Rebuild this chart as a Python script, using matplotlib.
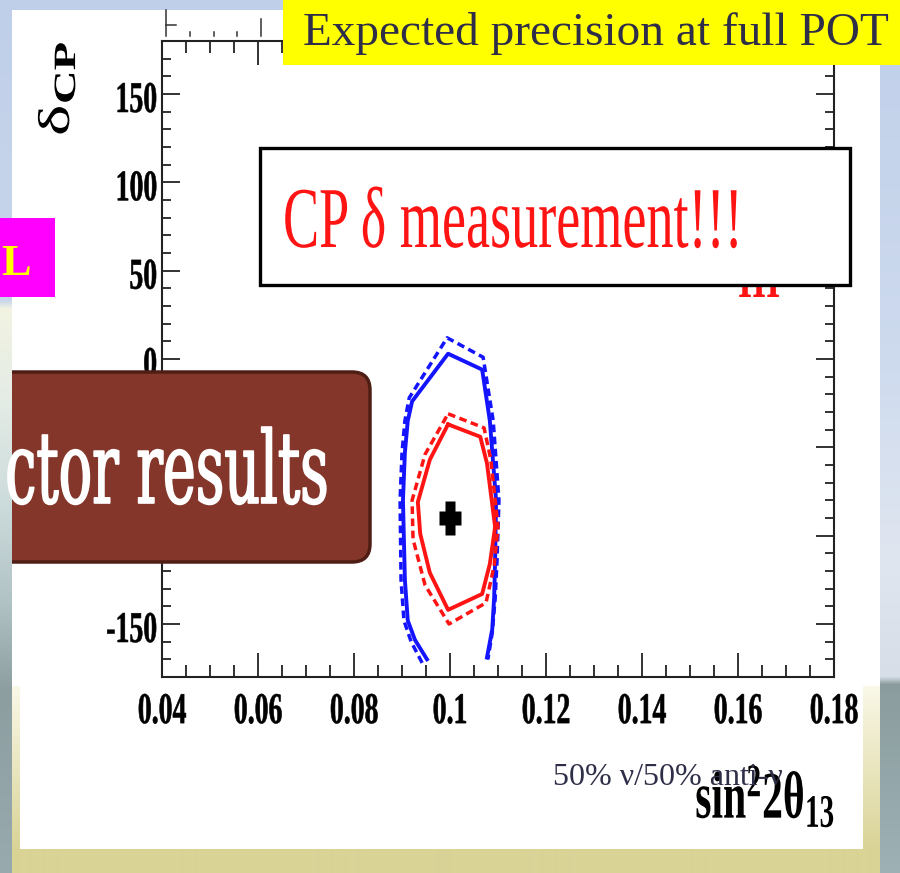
import numpy as np
import matplotlib.pyplot as plt
import matplotlib.patheffects as pe
from matplotlib.patches import Rectangle, FancyBboxPatch
from matplotlib.transforms import Affine2D
from matplotlib.path import Path
from matplotlib.ticker import MultipleLocator

plt.rcParams['mathtext.fontset'] = 'custom'
plt.rcParams['mathtext.rm'] = 'Liberation Serif'
plt.rcParams['mathtext.bf'] = 'Liberation Serif:bold'
plt.rcParams['mathtext.it'] = 'Liberation Serif:italic'

# axis ticks
x_ticks = [0.04, 0.06, 0.08, 0.10, 0.12, 0.14, 0.16, 0.18]
x_tick_labels = ['0.04', '0.06', '0.08', '0.1', '0.12', '0.14', '0.16', '0.18']
y_ticks = [-150, -100, -50, 0, 50, 100, 150]

# outer (blue) contours, open at the bottom where delta wraps round
blue_solid_x = [0.0952, 0.0927, 0.0912, 0.0906, 0.0902, 0.0906, 0.0912, 0.0921,
                0.0996, 0.1067, 0.1083, 0.1096, 0.1094, 0.1092, 0.1088, 0.1077]
blue_solid_y = [-170, -159, -148, -125, -80, -53, -35, -24,
                3, -6, -35, -80, -114, -135, -153, -169]
blue_dash_x = [0.0942, 0.0919, 0.0904, 0.0898, 0.0896, 0.0900, 0.0906, 0.0915,
               0.0994, 0.1069, 0.1090, 0.1102, 0.1098, 0.1094, 0.1088, 0.1079]
blue_dash_y = [-172, -160, -148, -125, -80, -53, -35, -22,
               12, 1, -35, -80, -114, -136, -155, -170]

# inner (red) contours, closed
red_solid_x = [0.0996, 0.1063, 0.1077, 0.1094, 0.1083, 0.1067, 0.0996,
               0.0958, 0.0938, 0.0933, 0.0958, 0.0996]
red_solid_y = [-37, -44, -59, -95, -116, -133, -142, -121, -99, -81, -57, -37]
red_dash_x = [0.0996, 0.1071, 0.1085, 0.1100, 0.1092, 0.1075, 0.0998,
              0.0948, 0.0923, 0.0921, 0.0948, 0.0996]
red_dash_y = [-31, -39, -57, -95, -117, -138, -150, -128, -102, -80, -54, -31]

# true point
true_x = [0.1]
true_y = [-90]

W, H = 900, 873


class Stretch(pe.AbstractPathEffect):
    # the slide picture is squashed sideways, glyphs come out taller than normal
    def __init__(self, sy=1.6, dy=0.0, lw=0.0):
        super().__init__()
        self.sy = sy
        self.dy = dy
        self.lw = lw

    def draw_path(self, renderer, gc, tpath, affine, rgbFace=None):
        x0, y0 = affine.transform((0, 0))
        tr = affine + Affine2D().translate(-x0, -y0).scale(1, self.sy).translate(x0, y0 + self.dy)
        if self.lw and rgbFace is not None:
            gc0 = renderer.new_gc()
            gc0.copy_properties(gc)
            gc0.set_linewidth(self.lw)
            gc0.set_foreground(rgbFace)
            renderer.draw_path(gc0, tpath, tr, rgbFace)
            gc0.restore()
        else:
            renderer.draw_path(gc, tpath, tr, rgbFace)


def gradient(stops, n):
    pos = [s[0] for s in stops]
    cols = [np.interp(np.arange(n), pos, [s[1][i] for s in stops]) for i in range(3)]
    return np.stack(cols, axis=-1) / 255.0


fig = plt.figure(figsize=(W / 100, H / 100), dpi=100)

# slide background
bg = fig.add_axes([0, 0, 1, 1], zorder=0)
img = np.repeat(gradient([(0, (192, 207, 233)), (350, (205, 218, 238)), (560, (224, 230, 240)),
                          (676, (215, 222, 232)), (684, (138, 156, 158)), (873, (158, 177, 180))], H)[:, None, :],
                W, axis=1)
img[:, :12] = gradient([(0, (192, 207, 233)), (300, (200, 214, 235)), (308, (242, 243, 226)),
                        (400, (228, 236, 230)), (520, (200, 216, 217)), (600, (178, 195, 197)),
                        (690, (140, 158, 160)), (873, (152, 170, 174))], H)[:, None, :]
bg.imshow(img, extent=(0, W, H, 0), aspect='auto', interpolation='bilinear')
frame = gradient([(0, (250, 248, 232)), (165, (217, 211, 150)), (188, (217, 211, 150))], 188)[:, None, :]
bg.imshow(frame, extent=(12, 880, H, 685), aspect='auto', interpolation='bilinear')
bg.add_patch(Rectangle((12, 10), 868, 676, fc='white', ec='none'))
bg.add_patch(Rectangle((20, 685), 843, 164, fc='white', ec='none'))
bg.set_xlim(0, W)
bg.set_ylim(H, 0)
bg.axis('off')

# the plot
ax = fig.add_axes([162 / W, 1 - 677 / H, 672 / W, 636 / H], zorder=1)
ax.set_facecolor('white')

ax.plot(blue_dash_x, blue_dash_y, color='#1414ff', lw=2.5, ls=(0, (2.2, 1.3)))
ax.plot(blue_solid_x, blue_solid_y, color='#1414ff', lw=2.8)
ax.plot(red_dash_x, red_dash_y, color='#ff1414', lw=2.5, ls=(0, (2.2, 1.3)))
ax.plot(red_solid_x, red_solid_y, color='#ff1414', lw=2.8)

hx, hy, tx, ty = 10, 16.5, 4.5, 6.5
plus = Path([(-tx, hy), (tx, hy), (tx, ty), (hx, ty), (hx, -ty), (tx, -ty), (tx, -hy),
             (-tx, -hy), (-tx, -ty), (-hx, -ty), (-hx, ty), (-tx, ty), (-tx, hy)], closed=True)
ax.plot(true_x, true_y, ls='none', marker=plus, markersize=25, color='black', mec='none')

ax.set_xlim(0.04, 0.18)
ax.set_ylim(-180, 180)
ax.set_xticks(x_ticks)
ax.set_xticklabels(x_tick_labels)
ax.set_yticks(y_ticks)
ax.set_yticklabels([str(v) for v in y_ticks])
ax.xaxis.set_minor_locator(MultipleLocator(0.005))
ax.yaxis.set_minor_locator(MultipleLocator(10))

ax.tick_params(which='both', direction='in', top=True, right=True, width=1.3, color='#222222')
ax.tick_params(axis='x', which='major', length=17, pad=19.5)
ax.tick_params(axis='x', which='minor', length=8.5)
ax.tick_params(axis='y', which='major', length=13, pad=3.6)
ax.tick_params(axis='y', which='minor', length=6.5)
for sp in ax.spines.values():
    sp.set_linewidth(1.5)
    sp.set_color('#222222')

for lab in ax.get_xticklabels():
    lab.set(fontfamily='Liberation Serif', fontweight='bold', fontsize=20)
    lab.set_path_effects([Stretch(1.58, lw=0.4)])
for lab in ax.get_yticklabels():
    lab.set(fontfamily='Liberation Serif', fontweight='bold', fontsize=20)
    lab.set_path_effects([Stretch(1.58, -8.5, lw=0.4)])

# overlay for slide decorations (pixel coordinates, y down)
ov = fig.add_axes([0, 0, 1, 1], zorder=2)
ov.set_xlim(0, W)
ov.set_ylim(H, 0)
ov.axis('off')

ax.set_xlabel(r'$\mathbf{sin^{2}2\theta_{13}}$', fontsize=30, ha='right', va='baseline',
              path_effects=[Stretch(1.6)])
ax.xaxis.set_label_coords(835, 818, transform=ov.transData)
ax.set_ylabel(r'$\mathrm{\delta}_{\mathbf{CP}}$', fontsize=32, rotation=90, rotation_mode='anchor',
              ha='left', va='bottom', path_effects=[Stretch(1.5)])
ax.yaxis.set_label_coords(78, 136, transform=ov.transData)

# leftover edge of another plot behind the slide
for gx, gy in [(190, 32), (214, 32), (237, 32), (261, 19)]:
    ov.plot([gx, gx], [gy, 36], color='#333333', lw=1.1)
ov.plot([166, 166], [10, 36], color='#333333', lw=1.1)
ov.plot([166, 176], [25, 25], color='#333333', lw=1.1)

# title box
ov.add_patch(Rectangle((283, 0), 617, 65, fc='#ffff00', ec='none', zorder=3))
ov.text(303, 45, 'Expected precision at full POT', fontsize=34, family='Liberation Serif',
        color='#2e2e48', ha='left', va='baseline', zorder=4)

# magenta tag on the left
ov.add_patch(Rectangle((0, 218), 55, 79, fc='#ff00ff', ec='none', zorder=3))
ov.text(1, 275, 'L', fontsize=32, family='Liberation Serif', fontweight='bold',
        color='#ffff00', ha='left', va='baseline', zorder=4)

# CP box
ov.text(738, 297, 'III', fontsize=26, family='Liberation Serif', fontweight='bold',
        color='#ff1414', ha='left', va='baseline', zorder=2, path_effects=[Stretch(1.6)])
ov.add_patch(Rectangle((260, 148), 590, 137, fc='white', ec='black', lw=2.4, zorder=3))
ov.text(283, 247, 'CP δ measurement!!!', fontsize=39, family='Liberation Serif',
        color='#ff1414', ha='left', va='baseline', zorder=4, path_effects=[Stretch(1.6)])

# brown banner
clip = Rectangle((12, 0), W, H, transform=ov.transData)
banner = FancyBboxPatch((-40, 372), 410, 190, boxstyle='round,pad=0,rounding_size=18',
                        fc='#84362a', ec='#4e1e15', lw=2.5, zorder=3)
ov.add_patch(banner)
banner.set_clip_path(clip)
ov.text(328, 503, 'ctor results', fontsize=40, family='DejaVu Serif', color='white',
        ha='right', va='baseline', zorder=4, clip_path=clip,
        path_effects=[Stretch(1.8, lw=1.2)])

ov.text(553, 785, '50% ν/50% anti-ν', fontsize=23, family='Liberation Serif',
        color='#2e2e48', ha='left', va='baseline', zorder=5)

fig.savefig('out.png', dpi=100)
